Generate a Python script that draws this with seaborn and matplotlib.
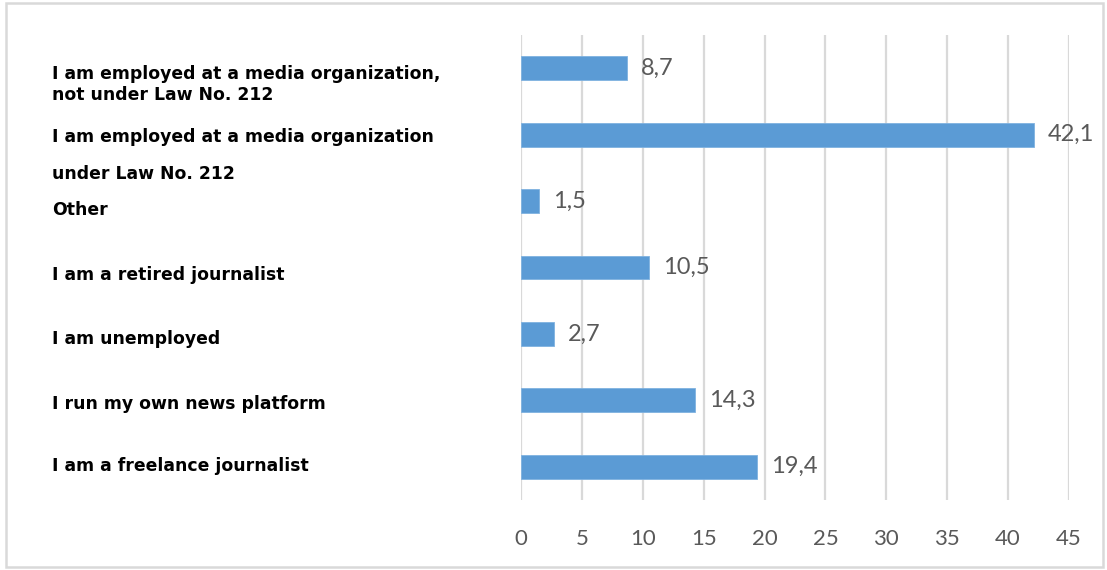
import matplotlib
matplotlib.use("Agg")
import matplotlib.pyplot as plt
import matplotlib.transforms as mtransforms
from matplotlib.patches import Rectangle
import seaborn as sns
import pandas as pd

# Survey answers (percent of respondents)
categories = [
    "I am employed at a media organization,\nnot under Law No. 212",
    "I am employed at a media organization\n\nunder Law No. 212",
    "Other",
    "I am a retired journalist",
    "I am unemployed",
    "I run my own news platform",
    "I am a freelance journalist",
]
values = [8.7, 42.1, 1.5, 10.5, 2.7, 14.3, 19.4]
value_labels = ["8,7", "42,1", "1,5", "10,5", "2,7", "14,3", "19,4"]
x_ticks = [0, 5, 10, 15, 20, 25, 30, 35, 40, 45]

# vertical placement of the category captions, in bar-slot units
caption_y = [0.245, 1.315, 2.14, 3.12, 4.07, 5.05, 5.995]
caption_spacing = [1.28, 1.06, 1.0, 1.0, 1.0, 1.0, 1.0]

sns.set_theme(style="white")
W, H, DPI = 1107, 570, 100
fig = plt.figure(figsize=(W / DPI, H / DPI), dpi=DPI)
ax = fig.add_axes([521 / W, 1 - 500 / H, (1069 - 521) / W, (500 - 35) / H])

df = pd.DataFrame({"category": categories, "value": values})
sns.barplot(data=df, y="category", x="value", order=categories,
            color="#5B9BD5", width=0.36, saturation=1, ax=ax,
            edgecolor="#7fb2e0", linewidth=0.6)

ax.set_xlim(0, 45)
ax.set_ylim(6.5, -0.5)
ax.set_xticks(x_ticks)
ax.set_xticklabels([str(t) for t in x_ticks], fontsize=16,
                   color="#595959", family="Lato")
ax.tick_params(axis="x", length=0, pad=21)
ax.set_yticks([])
ax.set_xlabel("")
ax.set_ylabel("")
for s in ax.spines.values():
    s.set_visible(False)
ax.grid(axis="x", color="#d9d9d9", linewidth=1.6)
ax.set_axisbelow(True)

# value labels next to bars
for i, (v, lab) in enumerate(zip(values, value_labels)):
    ax.annotate(lab, xy=(v, i), xytext=(10, 0), textcoords="offset points",
                ha="left", va="center", fontsize=17, color="#595959",
                family="Lato")

# category captions on the left
trans = mtransforms.blended_transform_factory(fig.transFigure, ax.transData)
for cap, y, ls in zip(categories, caption_y, caption_spacing):
    fig.text(52 / W, y, cap, transform=trans, ha="left", va="center",
             fontsize=12.4, fontweight="bold", color="black",
             family="DejaVu Sans", linespacing=ls)

# light frame around the whole chart
fig.patches.append(Rectangle((6 / W, 3 / H), (1103 - 6) / W, (567 - 3) / H,
                             transform=fig.transFigure, fill=False,
                             edgecolor="#d9d9d9", linewidth=1.8))

fig.savefig("out.png", dpi=DPI)
